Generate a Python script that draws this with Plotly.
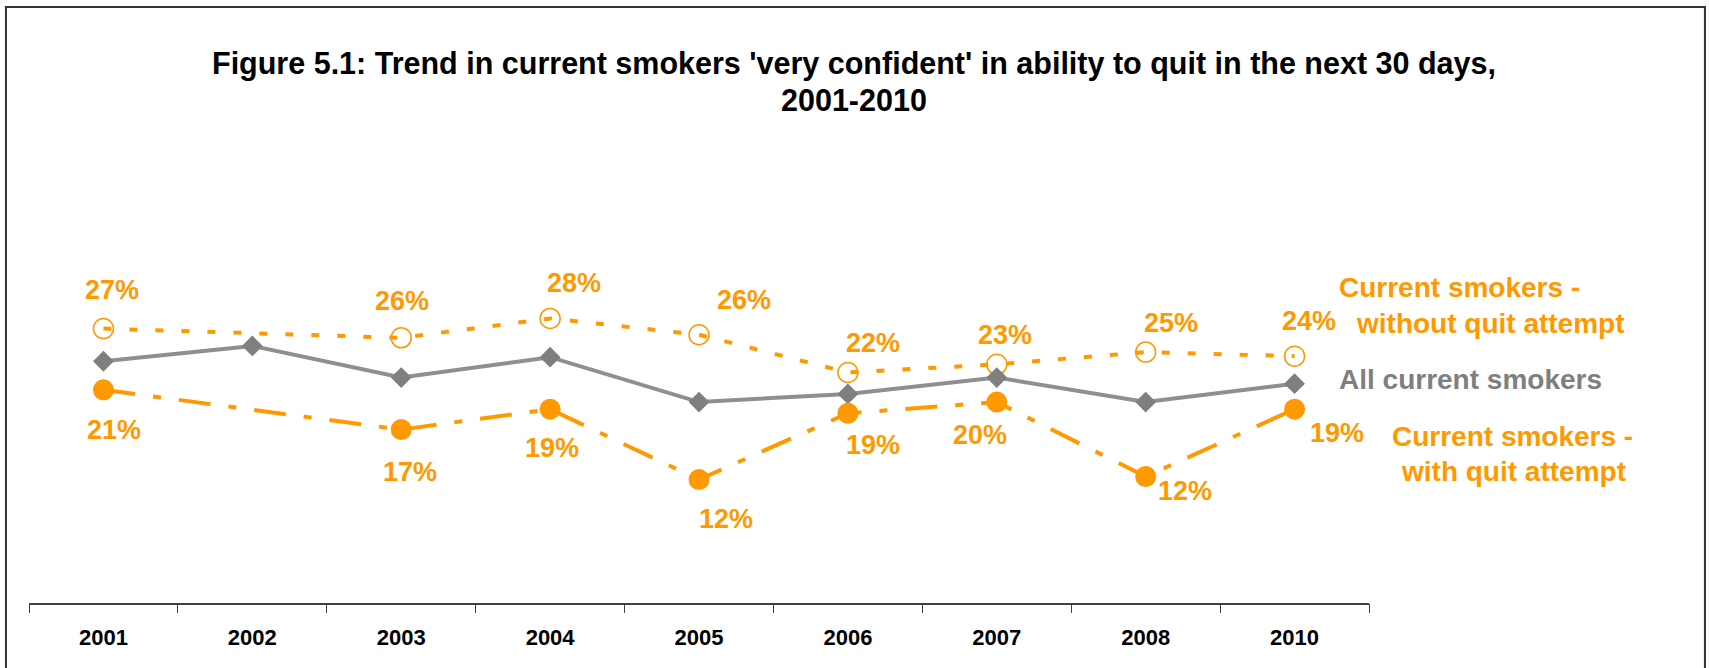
import plotly.graph_objects as go

years = ["2001", "2002", "2003", "2004", "2005", "2006", "2007", "2008", "2010"]
all_smokers = [23.7, 25.2, 22.1, 24.1, 19.7, 20.5, 22.1, 19.7, 21.5]
without_attempt = [26.9, None, 26.0, 27.9, 26.3, 22.6, 23.4, 24.6, 24.2]
with_attempt = [20.9, None, 17.0, 19.0, 12.1, 18.6, 19.7, 12.4, 19.0]
without_labels = ["27%", None, "26%", "28%", "26%", "22%", "23%", "25%", "24%"]
with_labels = ["21%", None, "17%", "19%", "12%", "19%", "20%", "12%", "19%"]

# label offsets in pixels (dx, dy) relative to the marker
without_off = [(9, 39), None, (1, 37), (24, 35), (45, 35), (25, 29), (8, 29), (25, 29), (14, 35)]
with_off = [(11, -40), None, (9, -42), (2, -39), (27, -39), (25, -32), (-17, -33), (39, -14), (42, -24)]

ORANGE = "#FF9900"
GREY_LINE = "#8F8F8F"
GREY_MARK = "#7F7F7F"
FONT = "Liberation Sans, Arial, sans-serif"

idx = list(range(len(years)))

fig = go.Figure()
fig.add_trace(go.Scatter(
    x=idx, y=without_attempt, mode="lines+markers", connectgaps=True,
    line=dict(color=ORANGE, width=4, dash="8px,18px"),
    marker=dict(symbol="circle-open", size=20, color=ORANGE, line=dict(width=1.5, color=ORANGE)),
    showlegend=False, cliponaxis=False,
))
fig.add_trace(go.Scatter(
    x=idx, y=all_smokers, mode="lines+markers",
    line=dict(color=GREY_LINE, width=4),
    marker=dict(symbol="diamond", size=16, color=GREY_MARK),
    showlegend=False, cliponaxis=False,
))
fig.add_trace(go.Scatter(
    x=idx, y=with_attempt, mode="lines+markers", connectgaps=True,
    line=dict(color=ORANGE, width=4, dash="32px,18px,8px,18px"),
    marker=dict(symbol="circle", size=21, color=ORANGE),
    showlegend=False, cliponaxis=False,
))

annotations = []
lab_font = dict(family=FONT, size=27, color=ORANGE)
for i, v, t, off in zip(idx, without_attempt, without_labels, without_off):
    if v is None:
        continue
    annotations.append(dict(x=i, y=v, xref="x", yref="y", text=f"<b>{t}</b>", showarrow=False,
                            xshift=off[0], yshift=off[1], font=lab_font))
for i, v, t, off in zip(idx, with_attempt, with_labels, with_off):
    if v is None:
        continue
    annotations.append(dict(x=i, y=v, xref="x", yref="y", text=f"<b>{t}</b>", showarrow=False,
                            xshift=off[0], yshift=off[1], font=lab_font))

side = [
    ("Current smokers -", 1.0675, 0.7745, ORANGE),
    ("without quit attempt", 1.0907, 0.686, ORANGE),
    ("All current smokers", 1.0754, 0.5466, GREY_MARK),
    ("Current smokers -", 1.1071, 0.4069, ORANGE),
    ("with quit attempt", 1.1075, 0.3211, ORANGE),
]
for t, x, y, c in side:
    annotations.append(dict(x=x, y=y, xref="paper", yref="paper", text=f"<b>{t}</b>", showarrow=False,
                            xanchor="center", yanchor="middle", font=dict(family=FONT, size=28, color=c)))

title_x = 0.616
annotations.append(dict(x=title_x, xref="paper", y=1.3214, yref="paper", xanchor="center", yanchor="middle",
                        text="<b>Figure 5.1: Trend in current smokers 'very confident' in ability to quit in the next 30 days,</b>",
                        showarrow=False, font=dict(family=FONT, size=30.5, color="black")))
annotations.append(dict(x=title_x, xref="paper", y=1.233, yref="paper", xanchor="center", yanchor="middle",
                        text="<b>2001-2010</b>", showarrow=False, font=dict(family=FONT, size=30.5, color="black")))

fig.update_layout(
    width=1709, height=668,
    margin=dict(l=29, r=340, t=195, b=65, autoexpand=False),
    paper_bgcolor="white", plot_bgcolor="white",
    annotations=annotations,
    shapes=[dict(type="rect", xref="paper", yref="paper", x0=-0.0172, x1=1.2507, y0=-0.2, y1=1.4608,
                 line=dict(color="#333333", width=2))],
    xaxis=dict(range=[-0.5, len(years) - 0.5], tickmode="array", tickvals=idx,
               ticktext=[f"<b>{y}</b>" for y in years], automargin=False,
               showgrid=False, zeroline=False, showline=True, linecolor="#404040",
               linewidth=2, ticks="", tickfont=dict(family=FONT, size=22, color="black"),
               ticklabelstandoff=14, fixedrange=True),
    xaxis2=dict(overlaying="x", range=[-0.5, len(years) - 0.5], tickmode="array",
                tickvals=[i - 0.5 for i in range(len(years) + 1)], showticklabels=False,
                ticks="outside", ticklen=9, tickcolor="#404040", tickwidth=1, side="bottom",
                showgrid=False, zeroline=False, showline=False, anchor="y", automargin=False),
    yaxis=dict(range=[0, 40], visible=False, fixedrange=True),
)
# invisible trace to activate the boundary-tick axis
fig.add_trace(go.Scatter(x=[idx[0]], y=[None], xaxis="x2", showlegend=False, hoverinfo="skip"))

fig.write_html("out.html", config={"displayModeBar": False},
               post_script="document.body.style.margin='0';")
